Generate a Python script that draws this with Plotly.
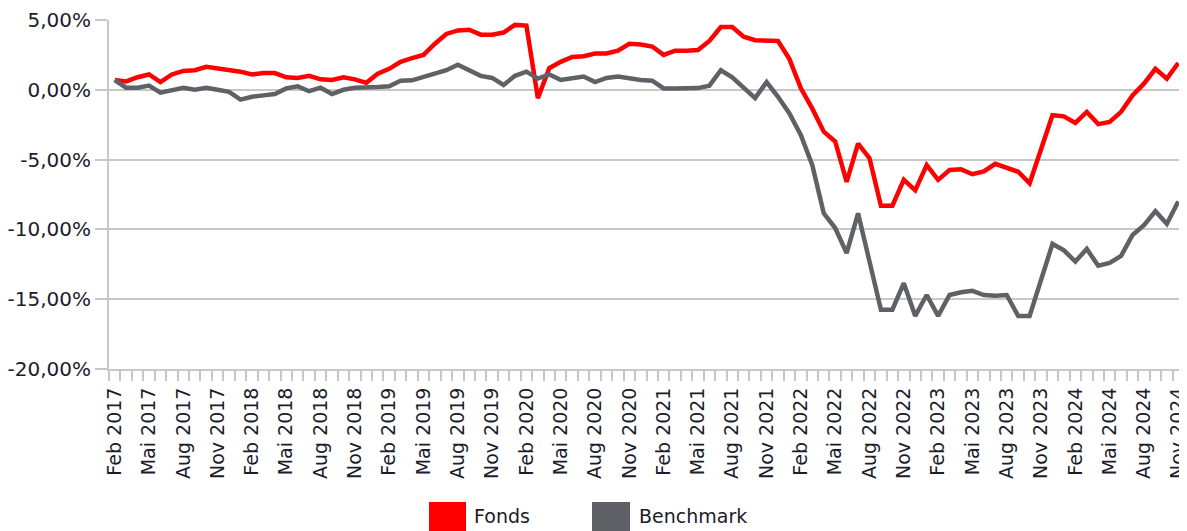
import plotly.graph_objects as go

# ---- data ----
months_de = ["Jan", "Feb", "Mär", "Apr", "Mai", "Jun", "Jul", "Aug", "Sep", "Okt", "Nov", "Dez"]
start_year, start_month = 2017, 2  # Feb 2017
n_points = 94                       # Feb 2017 .. Nov 2024

fonds = [
    0.70, 0.60, 0.90, 1.10, 0.55, 1.10, 1.35, 1.40, 1.65, 1.55,
    1.40, 1.30, 1.10, 1.20, 1.20, 0.90, 0.85, 1.00, 0.75, 0.70,
    0.90, 0.75, 0.50, 1.15, 1.50, 2.00, 2.27, 2.50, 3.30, 4.00,
    4.25, 4.30, 3.95, 3.95, 4.10, 4.65, 4.60, -0.60, 1.55, 2.00,
    2.35, 2.40, 2.60, 2.60, 2.80, 3.30, 3.25, 3.10, 2.50, 2.80,
    2.80, 2.85, 3.50, 4.50, 4.50, 3.80, 3.55, 3.55, 3.50, 2.20,
    0.10, -1.35, -3.00, -3.70, -6.60, -3.85, -4.90, -8.30, -8.30, -6.45,
    -7.20, -5.40, -6.45, -5.75, -5.70, -6.05, -5.85, -5.30, -5.55, -5.87,
    -6.70, -4.32, -1.82, -1.90, -2.37, -1.58, -2.46, -2.30, -1.58, -0.40,
    0.44, 1.50, 0.80, 1.92,
]

benchmark = [
    0.70, 0.15, 0.15, 0.30, -0.20, 0.00, 0.15, 0.00, 0.15, 0.00,
    -0.15, -0.70, -0.50, -0.40, -0.30, 0.10, 0.25, -0.10, 0.15, -0.30,
    0.00, 0.15, 0.15, 0.20, 0.25, 0.65, 0.68, 0.90, 1.15, 1.40,
    1.80, 1.40, 1.00, 0.85, 0.35, 1.00, 1.30, 0.80, 1.10, 0.70,
    0.80, 0.95, 0.55, 0.85, 0.95, 0.80, 0.70, 0.65, 0.10, 0.10,
    0.10, 0.12, 0.30, 1.40, 0.90, 0.20, -0.60, 0.55, -0.50, -1.70,
    -3.25, -5.40, -8.85, -9.90, -11.70, -8.85, -12.30, -15.75, -15.75, -13.85,
    -16.20, -14.70, -16.20, -14.70, -14.50, -14.40, -14.70, -14.75, -14.70, -16.20,
    -16.20, -13.60, -11.04, -11.50, -12.30, -11.40, -12.60, -12.40, -11.90, -10.40,
    -9.70, -8.70, -9.60, -8.00,
]

y_tick_vals = [5, 0, -5, -10, -15, -20]
y_tick_text = ["5,00%", "0,00%", "-5,00%", "-10,00%", "-15,00%", "-20,00%"]

series_names = ["Fonds", "Benchmark"]
series_colors = ["#ff0000", "#606167"]

# ---- derived categories ----
categories = []
for k in range(n_points):
    m = start_month - 1 + k
    categories.append(f"{months_de[m % 12]} {start_year + m // 12}")
x_idx = list(range(n_points))
label_idx = x_idx[::3]
label_text = [categories[i] for i in label_idx]

# ---- figure geometry (window px; page body has an 8px default margin) ----
OFF = 8
WIN_W, WIN_H = 1187, 531
W, H = WIN_W - OFF, WIN_H - OFF
PLOT_L, PLOT_R, PLOT_T, PLOT_B = 109, 1184, 19.5, 369.5   # in window px
L = PLOT_L - OFF
T = PLOT_T - OFF
R = W - (PLOT_R - OFF)
B = H - (PLOT_B - OFF)
plot_w = PLOT_R - PLOT_L
plot_h = PLOT_B - PLOT_T
GRID = "#c8c8c8"
TXT = "#1c1c2a"
FONT = "DejaVu Sans"

fig = go.Figure()
for name, vals, col in zip(series_names, [fonds, benchmark], series_colors):
    fig.add_trace(go.Scatter(
        x=x_idx, y=vals, mode="lines", name=name,
        line=dict(color=col, width=4.5),
        customdata=categories,
        hovertemplate="%{customdata}: %{y:.2f}%<extra>" + name + "</extra>",
    ))

def px_x(px):
    return (px - PLOT_L) / plot_w

def px_y(py):
    return (PLOT_B - py) / plot_h

shapes = []
annotations = []
legend_items = [(429, 466, 472), (592, 630, 637)]
for (x0, x1, tx), name, col in zip(legend_items, series_names, series_colors):
    shapes.append(dict(type="rect", xref="paper", yref="paper",
                       x0=px_x(x0), x1=px_x(x1), y0=px_y(503), y1=px_y(545),
                       fillcolor=col, line=dict(width=0), layer="above"))
    annotations.append(dict(xref="paper", yref="paper", x=px_x(tx), y=px_y(517),
                            xanchor="left", yanchor="middle", text=name, showarrow=False,
                            font=dict(family=FONT, size=19, color=TXT)))

fig.update_layout(
    width=W, height=H,
    margin=dict(l=L, r=R, t=T, b=B, pad=0, autoexpand=False),
    paper_bgcolor="white", plot_bgcolor="white",
    showlegend=False,
    shapes=shapes, annotations=annotations,
    font=dict(family=FONT, size=19, color=TXT),
)
fig.update_xaxes(
    range=[-0.5, n_points - 0.5],
    tickmode="array", tickvals=label_idx, ticktext=label_text,
    tickangle=-90,
    ticks="outside", ticklen=9, tickcolor="rgba(0,0,0,0)", tickwidth=1,
    tickfont=dict(family=FONT, size=19, color=TXT),
    ticklabeloverflow="allow",
    automargin=False,
    showgrid=False, zeroline=False,
    showline=True, linecolor=GRID, linewidth=2,
    minor=dict(tickmode="linear", tick0=-0.5, dtick=1, ticks="outside",
               ticklen=10, tickcolor=GRID, tickwidth=2, showgrid=False),
    fixedrange=True,
)
fig.update_yaxes(
    range=[-20, 5],
    tickmode="array", tickvals=y_tick_vals, ticktext=y_tick_text,
    ticks="outside", ticklen=12, tickcolor=GRID, tickwidth=2,
    tickfont=dict(family=FONT, size=20, color=TXT),
    automargin=False,
    showgrid=True, gridcolor=GRID, gridwidth=2,
    zeroline=False,
    showline=True, linecolor=GRID, linewidth=2,
    fixedrange=True,
)

fig.write_html("out.html")
